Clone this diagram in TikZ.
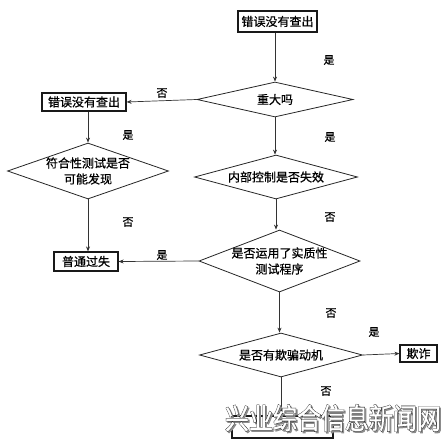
\documentclass[tikz,border=0pt]{standalone}
\usepackage{fontspec}
\usepackage{graphicx}
\setmainfont[FakeBold=0.7]{Noto Sans CJK SC}
\newfontfamily\wmthick[FakeBold=4]{Noto Sans CJK SC}
\newfontfamily\wmthin[FakeBold=1.2]{Noto Sans CJK SC}
\usetikzlibrary{shapes.geometric,arrows.meta}
\tikzset{
  box/.style={draw=black!90, line width=1.2pt, inner sep=0pt, font=\fontsize{12}{14}\selectfont},
  dia/.style={shape=diamond, draw=black!85, line width=0.8pt, inner sep=0pt},
  dtext/.style={align=center, font=\fontsize{12}{16}\selectfont, inner sep=0pt},
  arr/.style={draw=black!80, line width=0.7pt, -{Stealth[length=5pt,width=4pt]}},
  yn/.style={font=\fontsize{11}{12}\selectfont, inner sep=0pt},
  wm/.style={inner sep=0pt, font=\fontsize{24}{28}\selectfont}
}
\newcommand\wmtext{\scalebox{1}[1.2]{兴业综合信息新闻网}}
\begin{document}
\begin{tikzpicture}[x=1pt,y=-1pt]
\useasboundingbox[fill=white] (0,0) rectangle (447,442);
% boxes
\node[box, minimum width=79pt, minimum height=21pt] (b1) at (277.5,21.5) {错误没有查出};
\node[box, minimum width=84pt, minimum height=18pt] (b2) at (84,102) {错误没有查出};
\node[box, minimum width=64pt, minimum height=19pt] (b3) at (86,261.5) {普通过失};
\node[box, minimum width=37pt, minimum height=17pt] (b4) at (418.5,353.5) {欺诈};
\node[box, minimum width=101pt, minimum height=22pt] (b5) at (282.5,427) {};
% diamonds
\node[dia, minimum width=156pt, minimum height=35pt, label={[dtext]center:重大吗}] (d1) at (275,99.5) {};
\node[dia, minimum width=161pt, minimum height=56pt, label={[dtext]center:符合性测试是否\\可能发现}] (d2) at (88,171) {};
\node[dia, minimum width=163pt, minimum height=44pt, label={[dtext]center:内部控制是否失效}] (d3) at (276,177) {};
\node[dia, minimum width=161pt, minimum height=62pt, label={[dtext]center:是否运用了实质性\\测试程序}] (d4) at (279.5,261) {};
\node[dia, minimum width=163pt, minimum height=44pt, label={[dtext]center:是否有欺骗动机}] (d5) at (281,355) {};
% connectors
\draw[arr] (d1.north |- b1.south) -- (d1.north);
\draw[arr] (d1.west) -- (b2.east);
\draw[arr] (b2.south -| d2.north) -- (d2.north);
\draw[arr] (d2.south) -- (b3.north -| d2.south);
\draw[arr] (d1.south) -- (d3.north -| d1.south);
\draw[arr] (d3.south) -- (d4.north -| d3.south);
\draw[arr] (d4.west) -- (b3.east);
\draw[arr] (d4.south) -- (d5.north -| d4.south);
\draw[arr] (d5.east) -- (b4.west);
\draw[arr] (d5.south) -- (b5.north -| d5.south);
% yes / no labels
\node[yn] (l1) at (329,60) {是};
\node[yn] (l2) at (162,93) {否};
\node[yn] (l3) at (128,135) {是};
\node[yn] (l4) at (330,137) {是};
\node[yn] (l5) at (128,222) {否};
\node[yn] (l6) at (330,217) {否};
\node[yn] (l7) at (162,255) {是};
\node[yn] (l8) at (331,313) {否};
\node[yn] (l9) at (374,332) {是};
\node[yn] (l10) at (326,391) {否};
% watermark
\node[wm, text=black!45] (wms) at (334.5,419.5) {\wmthick\wmtext};
\node[wm, text=black!90] (wm0) at (333,418) {\wmthick\wmtext};
\node[wm, text=white] (wm) at (333,418) {\wmthin\wmtext};
\end{tikzpicture}
\end{document}
